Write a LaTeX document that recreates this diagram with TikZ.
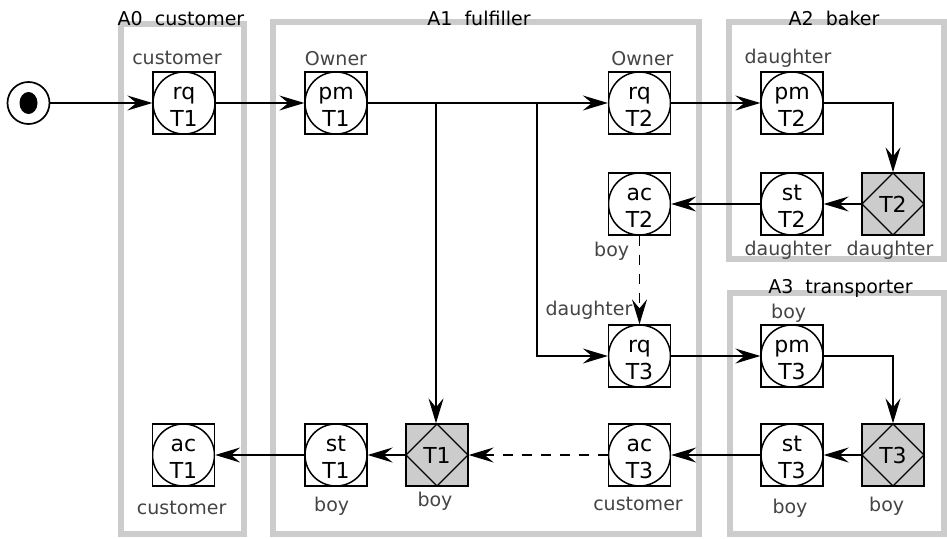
\documentclass[tikz,border=0pt]{standalone}
\usepackage{fontspec}
\setmainfont{DejaVu Sans}
\usetikzlibrary{arrows.meta}
\definecolor{lanegray}{HTML}{CCCCCC}
\definecolor{lblgray}{HTML}{444444}
\definecolor{boxfill}{HTML}{CCCCCC}
\newcommand\actn[4]{%
  \node[act] (#1) at (#2) {};
  \node[nt] (#1a) at ([yshift=4pt]#1.center) {#3};
  \node[nt] (#1b) at ([yshift=-23pt]#1.center) {#4};
}
\newcommand\exen[3]{%
  \node[exe] (#1) at (#2) {};
  \node[nt] (#1t) at ([yshift=-8pt]#1.center) {#3};
}
\begin{document}
\begin{tikzpicture}[x=1pt,y=-1pt,
  lane/.style={draw=lanegray, line width=6pt},
  act/.style={draw, rectangle, minimum size=62pt, inner sep=0pt, line width=1.3pt,
    path picture={\draw[line width=1.5pt] (path picture bounding box.center) circle (31pt);}},
  exe/.style={draw, fill=boxfill, rectangle, minimum size=62pt, inner sep=0pt, line width=1.3pt,
    path picture={\draw[line width=1.3pt] (path picture bounding box.north) -- (path picture bounding box.east) -- (path picture bounding box.south) -- (path picture bounding box.west) -- cycle;}},
  nt/.style={font=\fontsize{22}{25}\selectfont, inner sep=0pt, anchor=base},
  lbl/.style={font=\fontsize{19}{22}\selectfont, text=lblgray, inner sep=0pt, anchor=base},
  ttl/.style={font=\fontsize{19}{22}\selectfont, inner sep=0pt, anchor=base},
  conn/.style={line width=1.6pt, -{Stealth[length=25pt,width=15pt,inset=9pt]}},
  dsh/.style={dash pattern=on 10pt off 9pt}
]
\useasboundingbox (0,0) rectangle (947,538);
% lanes
\draw[lane] (121,24) rectangle (243.5,534);
\draw[lane] (272.5,22) rectangle (699.3,534);
\draw[lane] (728.5,22) rectangle (944,259);
\draw[lane] (729.5,293) rectangle (944,533.5);
% lane titles
\node[ttl] (t0) at (181,25.5) {A0\hspace{6pt} customer};
\node[ttl] (t1) at (479,25) {A1\hspace{6pt} fulfiller};
\node[ttl] (t2) at (834,25) {A2\hspace{6pt} baker};
\node[ttl] (t3) at (840.5,293) {A3\hspace{6pt} transporter};
% start
\node[draw, circle, minimum size=42pt, inner sep=0pt, line width=1.7pt] (start) at (28.5,103) {};
\fill (start.center) ellipse (9pt and 11pt);
% activity nodes
\actn{rqT1}{184,103}{rq}{T1}
\actn{pmT1}{336,103}{pm}{T1}
\actn{rqT2}{639.5,103}{rq}{T2}
\actn{pmT2}{792,103}{pm}{T2}
\actn{acT2}{639.5,204}{ac}{T2}
\actn{stT2}{792,204}{st}{T2}
\exen{dT2}{893,204}{T2}
\actn{rqT3}{639.5,356}{rq}{T3}
\actn{pmT3}{792,356}{pm}{T3}
\actn{acT1}{183.5,455}{ac}{T1}
\actn{stT1}{336,455}{st}{T1}
\exen{dT1}{437,455}{T1}
\actn{acT3}{639.5,455}{ac}{T3}
\actn{stT3}{792,455}{st}{T3}
\exen{dT3}{893,455}{T3}
% labels
\node[lbl] (l1) at (177,64) {customer};
\node[lbl] (l2) at (336,65) {Owner};
\node[lbl] (l3) at (642.5,65) {Owner};
\node[lbl] (l4) at (788,63) {daughter};
\node[lbl] (l5) at (788,255) {daughter};
\node[lbl] (l6) at (890,255) {daughter};
\node[lbl] (l7) at (611.7,256) {boy};
\node[lbl] (l8) at (589,315) {daughter};
\node[lbl] (l9) at (788.7,318) {boy};
\node[lbl] (l10) at (181.7,514) {customer};
\node[lbl] (l11) at (331.7,511) {boy};
\node[lbl] (l12) at (435,506) {boy};
\node[lbl] (l13) at (638,510) {customer};
\node[lbl] (l14) at (790,513) {boy};
\node[lbl] (l15) at (886.7,511) {boy};
% connectors
\coordinate (br1) at (436,103);
\coordinate (br2) at (537,103);
\draw[conn] (start) -- (rqT1);
\draw[conn] (rqT1) -- (pmT1);
\draw[conn] (pmT1) -- (rqT2);
\draw[conn] (br1) -- (br1 |- dT1.north);
\draw[conn] (br2) |- (rqT3.west);
\draw[conn] (rqT2) -- (pmT2);
\draw[conn] (pmT2.east) -| (dT2.north);
\draw[conn] (dT2) -- (stT2);
\draw[conn] (stT2) -- (acT2);
\draw[conn, dsh] (acT2) -- (rqT3);
\draw[conn] (rqT3) -- (pmT3);
\draw[conn] (pmT3.east) -| (dT3.north);
\draw[conn] (dT3) -- (stT3);
\draw[conn] (stT3) -- (acT3);
\draw[conn, dsh] (acT3) -- (dT1);
\draw[conn] (dT1) -- (stT1);
\draw[conn] (stT1) -- (acT1);
\end{tikzpicture}
\end{document}
